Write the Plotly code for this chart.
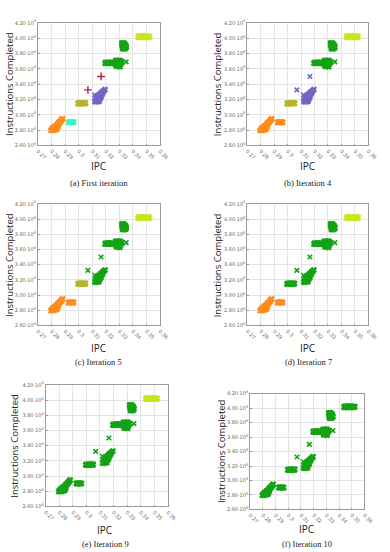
import plotly.graph_objects as go

# ---------------- data (IPC, instructions in units of 1e8) ----------------
# cluster A: lower diagonal band
a_ipc = [0.2795,0.2808,0.2820,0.2832,0.2843,0.2803,0.2815,0.2828,0.2840,0.2850,0.2812,0.2825,0.2838,0.2850,
         0.2830,0.2843,0.2855,0.2848,0.2860,0.2858,0.2868,0.2866,0.2876,0.2875,0.2882]
a_ins = [2.795,2.795,2.800,2.805,2.815,2.815,2.820,2.825,2.835,2.845,2.835,2.845,2.855,2.865,
         2.860,2.870,2.880,2.890,2.895,2.905,2.910,2.920,2.930,2.940,2.950]
# cluster B: flat blob at 2.90
b_ipc = [0.2925,0.2933,0.2941,0.2949,0.2957,0.2965,0.2929,0.2937,0.2945,0.2953,0.2961]
b_ins = [2.900,2.898,2.902,2.900,2.898,2.902,2.907,2.905,2.908,2.906,2.905]
# cluster C: flat blob at 3.15
c_ipc = [0.2995,0.3004,0.3013,0.3022,0.3031,0.3040,0.3049,0.2999,0.3008,0.3017,0.3026,0.3035,0.3044,0.3052]
c_ins = [3.145,3.143,3.147,3.145,3.143,3.147,3.145,3.155,3.153,3.157,3.155,3.153,3.157,3.155]
# isolated points
p_ipc = [0.3069, 0.3166]
p_ins = [3.325, 3.500]
q_ipc = [0.3118]
q_ins = [3.260]
# cluster D: middle diagonal band
d_ipc = [0.3120,0.3130,0.3142,0.3152,0.3123,0.3135,0.3146,0.3158,0.3132,0.3144,0.3156,0.3166,0.3141,0.3153,
         0.3165,0.3152,0.3163,0.3175,0.3162,0.3173,0.3172,0.3183,0.3181,0.3190,0.3196]
d_ins = [3.170,3.168,3.172,3.175,3.190,3.195,3.198,3.205,3.215,3.220,3.225,3.230,3.240,3.245,
         3.250,3.260,3.265,3.270,3.280,3.285,3.295,3.300,3.310,3.320,3.330]
# cluster E: horizontal strip at 3.67
e_ipc = [0.3195,0.3204,0.3213,0.3222,0.3231,0.3240,0.3249,0.3258,0.3266,0.3199,0.3208,0.3217,0.3226,0.3235,0.3244,0.3253]
e_ins = [3.670,3.673,3.669,3.672,3.675,3.670,3.673,3.669,3.672,3.683,3.681,3.685,3.683,3.681,3.685,3.680]
# cluster F: blob at 3.66
f_ipc = [0.3272,0.3281,0.3290,0.3299,0.3308,0.3315,0.3274,0.3283,0.3292,0.3301,0.3310,0.3316,0.3272,0.3281,
         0.3290,0.3299,0.3308,0.3278,0.3287,0.3296,0.3305]
f_ins = [3.705,3.710,3.705,3.710,3.705,3.695,3.685,3.680,3.685,3.680,3.685,3.675,3.660,3.655,
         3.660,3.655,3.650,3.635,3.630,3.635,3.625]
g_ipc = [0.3351]
g_ins = [3.690]
# cluster H: upper blob at 3.89
h_ipc = [0.3318,0.3328,0.3338,0.3320,0.3330,0.3340,0.3348,0.3322,0.3332,0.3342,0.3350,0.3324,0.3334,0.3344,
         0.3352,0.3326,0.3336,0.3346]
h_ins = [3.935,3.940,3.930,3.915,3.920,3.915,3.910,3.895,3.900,3.895,3.890,3.875,3.880,3.875,
         3.880,3.860,3.860,3.865]
# cluster I: top strip at 4.02
i_ipc = [0.3438,0.3447,0.3456,0.3465,0.3474,0.3483,0.3492,0.3501,0.3510,0.3518,0.3442,0.3451,0.3460,0.3469,
         0.3478,0.3487,0.3496,0.3505,0.3514,0.3525]
i_ins = [4.012,4.010,4.013,4.011,4.010,4.012,4.011,4.013,4.010,4.012,4.025,4.027,4.024,4.028,
         4.026,4.025,4.027,4.024,4.026,4.020]

x_ticks = [0.27,0.28,0.29,0.30,0.31,0.32,0.33,0.34,0.35,0.36]
x_labels = ["0.27","0.28","0.29","0.3","0.31","0.32","0.33","0.34","0.35","0.36"]
y_ticks = [2.6,2.8,3.0,3.2,3.4,3.6,3.8,4.0,4.2]
y_labels = ["2.60","2.80","3.00","3.20","3.40","3.60","3.80","4.00","4.20"]

captions = ["(a) First iteration", "(b) Iteration 4", "(c) Iteration 5",
            "(d) Iteration 7", "(e) Iteration 9", "(f) Iteration 10"]

clusters = {
    "A": (a_ipc, a_ins), "B": (b_ipc, b_ins), "C": (c_ipc, c_ins), "P": (p_ipc, p_ins),
    "Q": (q_ipc, q_ins), "D": (d_ipc, d_ins), "E": (e_ipc, e_ins), "F": (f_ipc, f_ins),
    "G": (g_ipc, g_ins), "H": (h_ipc, h_ins), "I": (i_ipc, i_ins),
}
singles = {"P", "Q", "G"}

# ---------------- styles ----------------
ORANGE = "#ff8c1a"; CYAN = "#3ff5c8"; OLIVE = "#b5b532"; PURPLE = "#7366c6"
CRIMSON = "#a8224a"; GREEN = "#14a314"; YGREEN = "#c8e61a"

panel_colors = [
    {"A": ORANGE, "B": CYAN, "C": OLIVE, "P": CRIMSON, "Q": PURPLE, "D": PURPLE,
     "E": GREEN, "F": GREEN, "G": GREEN, "H": GREEN, "I": YGREEN},
    {"A": ORANGE, "B": ORANGE, "C": OLIVE, "P": PURPLE, "Q": PURPLE, "D": PURPLE,
     "E": GREEN, "F": GREEN, "G": GREEN, "H": GREEN, "I": YGREEN},
    {"A": ORANGE, "B": ORANGE, "C": OLIVE, "P": GREEN, "Q": GREEN, "D": GREEN,
     "E": GREEN, "F": GREEN, "G": GREEN, "H": GREEN, "I": YGREEN},
    {"A": ORANGE, "B": ORANGE, "C": GREEN, "P": GREEN, "Q": GREEN, "D": GREEN,
     "E": GREEN, "F": GREEN, "G": GREEN, "H": GREEN, "I": YGREEN},
    {"A": GREEN, "B": GREEN, "C": GREEN, "P": GREEN, "Q": GREEN, "D": GREEN,
     "E": GREEN, "F": GREEN, "G": GREEN, "H": GREEN, "I": YGREEN},
    {k: GREEN for k in "ABCPQDEFGHI"},
]

W, H = 390, 552
# pixel boxes: left, right, top, bottom
boxes = [(37, 163, 20, 144), (253, 378, 20, 144),
         (37, 163, 203, 326), (253, 378, 203, 326),
         (45, 171, 386, 509), (256, 374, 395, 512)]
ipc_pos = [(100, 165), (315, 165), (100, 349), (315, 349), (106, 533), (314, 532)]
ytitle_pos = [(7, 82), (222, 82), (7, 265), (222, 265), (12, 448), (226, 453)]
cap_pos = [(100, 182), (316, 182), (100, 363), (316, 363), (107, 547), (315, 547)]

fig = go.Figure()
layout = dict(width=W, height=H, margin=dict(l=0, r=0, t=0, b=0),
              paper_bgcolor="white", plot_bgcolor="white", showlegend=False)
annotations = []

for k in range(6):
    xa = "x" if k == 0 else f"x{k+1}"
    ya = "y" if k == 0 else f"y{k+1}"
    cols = panel_colors[k]
    for name, (xs, ys) in clusters.items():
        col = cols[name]
        if name == "P" and k == 0:
            marker = dict(symbol="cross-thin", size=5.5, line=dict(color=col, width=1.4), color=col)
        elif name in singles:
            marker = dict(symbol="x-thin", size=4.5, line=dict(color=col, width=1.6), color=col)
        else:
            marker = dict(symbol="x", size=5.5, color=col, line=dict(width=0))
        fig.add_trace(go.Scatter(x=xs, y=ys, mode="markers", marker=marker,
                                 xaxis=xa, yaxis=ya, hoverinfo="skip"))
    l, r, t, b = boxes[k]
    axcommon = dict(showgrid=True, gridcolor="#e4e4e4", gridwidth=0.6, zeroline=False,
                    showline=True, linecolor="#9a9a9a", linewidth=0.8, mirror=True,
                    ticks="inside", ticklen=2, tickcolor="#9a9a9a", tickwidth=0.6,
                    tickfont=dict(family="DejaVu Sans", size=5, color="#666666"))
    layout["xaxis" if k == 0 else f"xaxis{k+1}"] = dict(
        axcommon, domain=[l / W, r / W], range=[0.27, 0.36], anchor=ya,
        tickmode="array", tickvals=x_ticks, ticktext=x_labels, tickangle=45)
    layout["yaxis" if k == 0 else f"yaxis{k+1}"] = dict(
        axcommon, domain=[1 - b / H, 1 - t / H], range=[2.6, 4.2], anchor=xa,
        tickmode="array", tickvals=y_ticks,
        ticktext=[s + "·10<sup>8</sup>" for s in y_labels])
    px, py = ipc_pos[k]
    annotations.append(dict(text="IPC", x=px / W, y=1 - py / H, xref="paper", yref="paper",
                            showarrow=False, xanchor="center", yanchor="middle",
                            font=dict(family="Open Sans", size=10, color="#222222")))
    tx, ty = ytitle_pos[k]
    annotations.append(dict(text="Instructions Completed", x=tx / W, y=1 - ty / H,
                            xref="paper", yref="paper", showarrow=False, textangle=-90,
                            xanchor="center", yanchor="middle",
                            font=dict(family="Open Sans", size=9.5, color="#222222")))
    cx, cy = cap_pos[k]
    annotations.append(dict(text=captions[k], x=cx / W, y=1 - cy / H, xref="paper", yref="paper",
                            showarrow=False, xanchor="center", yanchor="middle",
                            font=dict(family="Liberation Serif", size=8.5, color="#222222")))

layout["annotations"] = annotations
fig.update_layout(**layout)
fig.write_html("out.html")
